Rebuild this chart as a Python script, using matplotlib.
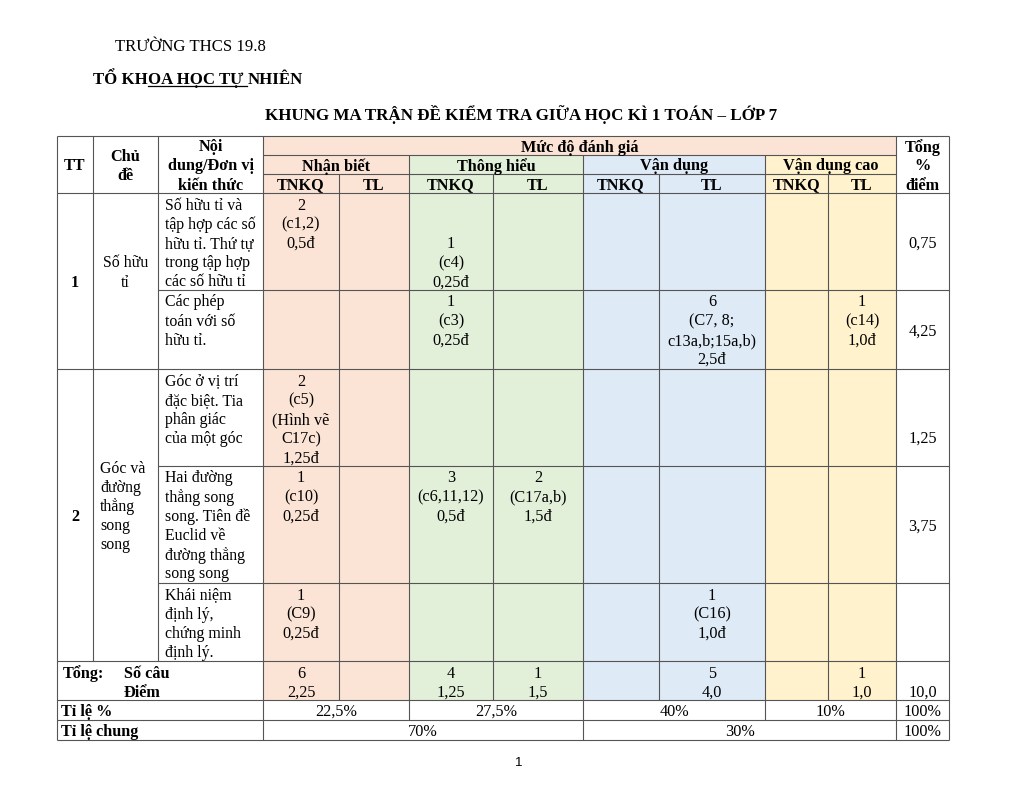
import matplotlib
matplotlib.use('Agg')
import matplotlib.pyplot as plt
from matplotlib.patches import Rectangle

plt.rcParams['font.family'] = ['Liberation Serif', 'DejaVu Serif']

# ---- table content ----
levels = ['Nhận biết', 'Thông hiểu', 'Vận dụng', 'Vận dụng cao']
level_colors = ['#fbe4d5', '#e2efd9', '#deeaf6', '#fff2cc']
sub_heads = ['TNKQ', 'TL'] * 4

topic_nums = ['1', '2']
topics = ['Số hữu\ntỉ', 'Góc và\nđường\nthẳng\nsong\nsong']
topic_align = ['center', 'left']
topic_rows = [(0, 2), (2, 5)]  # content rows covered by each topic

contents = [
    'Số hữu tỉ và\ntập hợp các số\nhữu tỉ. Thứ tự\ntrong tập hợp\ncác số hữu tỉ',
    'Các phép\ntoán với số\nhữu tỉ.',
    'Góc ở vị trí\nđặc biệt. Tia\nphân giác\ncủa một góc',
    'Hai đường\nthẳng song\nsong. Tiên đề\nEuclid về\nđường thẳng\nsong song',
    'Khái niệm\nđịnh lý,\nchứng minh\nđịnh lý.',
]

# one entry per sub column: NB TNKQ, NB TL, TH TNKQ, TH TL, VD TNKQ, VD TL, VDC TNKQ, VDC TL
cells = [
    ['2\n(c1,2)\n0,5đ', '', '\n\n1\n(c4)\n0,25đ', '', '', '', '', ''],
    ['', '', '1\n(c3)\n0,25đ', '', '', '6\n(C7, 8;\nc13a,b;15a,b)\n2,5đ', '', '1\n(c14)\n1,0đ'],
    ['2\n(c5)\n(Hình vẽ\nC17c)\n1,25đ', '', '', '', '', '', '', ''],
    ['1\n(c10)\n0,25đ', '', '3\n(c6,11,12)\n0,5đ', '2\n(C17a,b)\n1,5đ', '', '', '', ''],
    ['1\n(C9)\n0,25đ', '', '', '', '', '1\n(C16)\n1,0đ', '', ''],
]
row_totals = ['0,75', '4,25', '\n\n1,25', '3,75', '']

sum_counts = ['6', '', '4', '1', '', '5', '', '1']
sum_points = ['2,25', '', '1,25', '1,5', '', '4,0', '', '1,0']
sum_total = '10,0'
level_pct = ['22,5%', '27,5%', '40%', '10%']
general_pct = ['70%', '30%']

# ---- layout (pixels) ----
col_x = [57, 93, 158, 263, 339, 409, 493, 583, 659, 765, 828, 896, 949]
head_y = [136, 155, 174, 193]
body_y = [193, 290, 369, 466, 583, 661]
foot_y = [661, 700, 720, 740]
LINE = 19.2
FS = 11.7       # cell values
FS_TXT = 11.4   # content column
FS_TOP = 12.1   # page heading
line_kw = dict(color='#555555', lw=0.8)

fig = plt.figure(figsize=(10.24, 7.92), dpi=100)
ax = fig.add_axes([0, 0, 1, 1])
ax.set_xlim(0, 1024)
ax.set_ylim(792, 0)
ax.axis('off')


def put(x, y, s, ha='center', bold=False, size=FS, family=None):
    kw = {}
    if family:
        kw['family'] = family
    return ax.text(x, y, s, ha=ha, va='center_baseline', fontsize=size,
                   fontweight='bold' if bold else 'normal', **kw)


def put_lines(x, y0, s, ha='center', bold=False, size=FS):
    for i, ln in enumerate(s.split('\n')):
        if ln:
            put(x, y0 + i * LINE, ln, ha=ha, bold=bold, size=size)


def put_block(x, yc, s, ha='center', bold=False, size=FS):
    n = len(s.split('\n'))
    put_lines(x, yc - (n - 1) * LINE / 2, s, ha=ha, bold=bold, size=size)


# ---- background colours ----
ax.add_patch(Rectangle((col_x[3], head_y[0]), col_x[11] - col_x[3], head_y[1] - head_y[0],
                       facecolor=level_colors[0], lw=0))
for k, c in enumerate(level_colors):
    x0, x1 = col_x[3 + 2 * k], col_x[5 + 2 * k]
    ax.add_patch(Rectangle((x0, head_y[1]), x1 - x0, foot_y[1] - head_y[1], facecolor=c, lw=0))

# ---- grid ----
L, R = col_x[0], col_x[-1]
ax.hlines([head_y[0], head_y[3], body_y[2], body_y[5]] + foot_y[1:], L, R, **line_kw)
ax.hlines(head_y[1:3], col_x[3], col_x[11], **line_kw)
ax.hlines([body_y[1], body_y[3], body_y[4]], col_x[2], R, **line_kw)
ax.vlines([L, col_x[3], col_x[11], R], head_y[0], foot_y[3], **line_kw)
ax.vlines(col_x[1:3], head_y[0], foot_y[0], **line_kw)
ax.vlines([col_x[4], col_x[6], col_x[8], col_x[10]], head_y[2], foot_y[1], **line_kw)
ax.vlines([col_x[5], col_x[9]], head_y[1], foot_y[2], **line_kw)
ax.vlines(col_x[7], head_y[1], foot_y[3], **line_kw)

# ---- page header ----
put(115, 45, 'TRƯỜNG THCS 19.8', ha='left', size=FS_TOP)
fig.canvas.draw()
r = fig.canvas.get_renderer()
parts = ['TỔ KH', 'OA HỌC TỰ ', 'NHIÊN']
x = 93
inv = ax.transData.inverted()
for i, p in enumerate(parts):
    t = put(x, 78, p, ha='left', bold=True, size=FS_TOP)
    bb = t.get_window_extent(renderer=r)
    x0 = inv.transform((bb.x0, 0))[0]
    x1 = inv.transform((bb.x1, 0))[0]
    if i == 1:
        ax.plot([x0, x1], [86, 86], color='black', lw=0.9)
    x = x1
put(521, 112, 'KHUNG MA TRẬN ĐỀ KIỂM TRA GIỮA HỌC KÌ 1 TOÁN – LỚP 7', bold=True, size=12.25)

# ---- table header ----
ymid_head = (head_y[0] + head_y[3]) / 2
put_block((col_x[0] + col_x[1]) / 2, ymid_head, 'TT', bold=True)
put_block((col_x[1] + col_x[2]) / 2, ymid_head, 'Chủ\nđề', bold=True)
put_block((col_x[2] + col_x[3]) / 2, ymid_head, 'Nội\ndung/Đơn vị\nkiến thức', bold=True)
put_block((col_x[11] + col_x[12]) / 2, ymid_head, 'Tổng\n%\nđiểm', bold=True)
put((col_x[3] + col_x[11]) / 2, (head_y[0] + head_y[1]) / 2, 'Mức độ đánh giá', bold=True)
for k, name in enumerate(levels):
    put((col_x[3 + 2 * k] + col_x[5 + 2 * k]) / 2, (head_y[1] + head_y[2]) / 2, name, bold=True)
for j, name in enumerate(sub_heads):
    put((col_x[3 + j] + col_x[4 + j]) / 2, (head_y[2] + head_y[3]) / 2, name, bold=True)

# ---- body ----
for t, (a, b) in enumerate(topic_rows):
    yc = (body_y[a] + body_y[b]) / 2
    put((col_x[0] + col_x[1]) / 2, yc, topic_nums[t], bold=True)
    if topic_align[t] == 'center':
        put_block((col_x[1] + col_x[2]) / 2, yc - 10, topics[t], size=FS_TXT)
    else:
        put_block(col_x[1] + 7, yc - 10, topics[t], ha='left', size=FS_TXT)

for i, txt in enumerate(contents):
    top = body_y[i] + 10.5
    put_lines(col_x[2] + 7, top, txt, ha='left', size=FS_TXT)
    for j, cell in enumerate(cells[i]):
        put_lines((col_x[3 + j] + col_x[4 + j]) / 2, top, cell)
    put_block((col_x[11] + col_x[12]) / 2, (body_y[i] + body_y[i + 1]) / 2, row_totals[i])

# ---- footer rows ----
y1, y2 = foot_y[0] + 11, foot_y[0] + 30
put(63, y1, 'Tổng:', ha='left', bold=True)
put(124, y1, 'Số câu', ha='left', bold=True)
put(124, y2, 'Điểm', ha='left', bold=True)
for j in range(8):
    xc = (col_x[3 + j] + col_x[4 + j]) / 2
    put(xc, y1, sum_counts[j])
    put(xc, y2, sum_points[j])
put((col_x[11] + col_x[12]) / 2, y2, sum_total)

y3 = (foot_y[1] + foot_y[2]) / 2
put(61, y3, 'Tỉ lệ %', ha='left', bold=True)
for k, v in enumerate(level_pct):
    put((col_x[3 + 2 * k] + col_x[5 + 2 * k]) / 2, y3, v)
put((col_x[11] + col_x[12]) / 2, y3, '100%')

y4 = (foot_y[2] + foot_y[3]) / 2
put(61, y4, 'Tỉ lệ chung', ha='left', bold=True)
put((col_x[3] + col_x[7]) / 2, y4, general_pct[0])
put((col_x[7] + col_x[11]) / 2, y4, general_pct[1])
put((col_x[11] + col_x[12]) / 2, y4, '100%')

put(519, 762, '1', size=9.5, family=['Liberation Sans', 'DejaVu Sans'])

fig.savefig('out.png', dpi=100, facecolor='white')
